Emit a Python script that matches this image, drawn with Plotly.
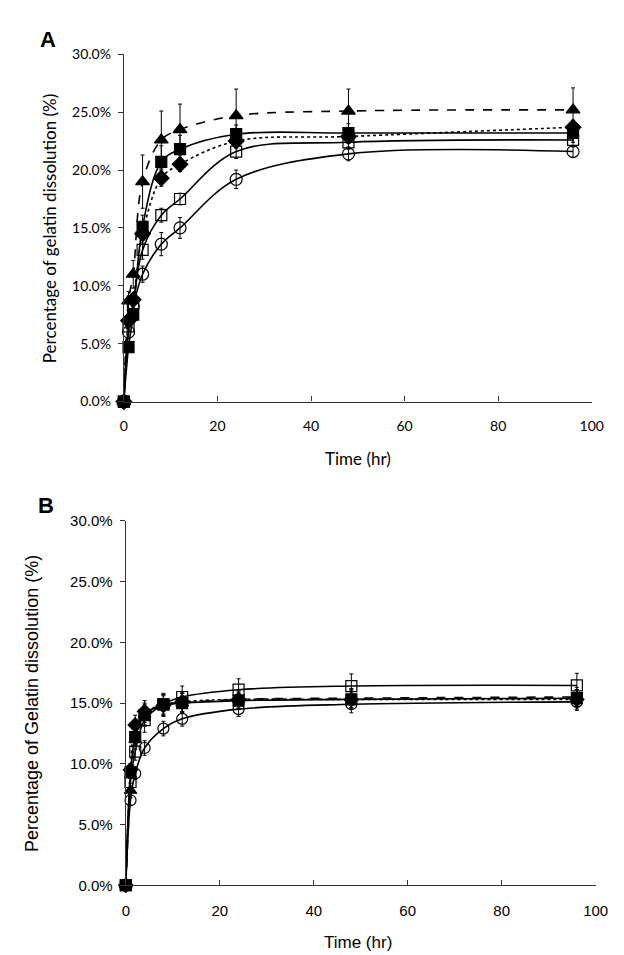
import plotly.graph_objects as go

# ---------------- data ----------------
time_h = [0, 1, 2, 4, 8, 12, 24, 48, 96]
x_ticks = [0, 20, 40, 60, 80, 100]

# Panel A (percentage of gelatin dissolution, %)
a_triangle = [0, 8.7, 11.0, 19.0, 22.6, 23.5, 24.7, 25.1, 25.2]
a_triangle_err = [0, 0.8, 1.2, 2.3, 2.5, 2.2, 2.3, 1.9, 1.9]
a_fsquare = [0, 4.7, 7.5, 15.1, 20.7, 21.8, 23.1, 23.2, 23.2]
a_fsquare_err = [0, 0.3, 0.5, 1.0, 1.4, 1.2, 0.8, 0.8, 0.8]
a_diamond = [0, 7.0, 8.8, 14.5, 19.3, 20.5, 22.5, 22.9, 23.7]
a_diamond_err = [0, 0.4, 0.5, 0.8, 0.7, 0.6, 0.6, 0.6, 0.6]
a_osquare = [0, 6.5, 8.5, 13.1, 16.1, 17.5, 21.6, 22.4, 22.6]
a_osquare_err = [0, 0.4, 0.5, 0.8, 0.6, 0.5, 0.6, 0.6, 0.6]
a_circle = [0, 6.0, 8.2, 11.0, 13.6, 15.0, 19.2, 21.4, 21.6]
a_circle_err = [0, 0.5, 0.6, 0.7, 1.0, 0.9, 0.8, 0.6, 0.5]

# Panel B
b_osquare = [0, 8.5, 11.0, 13.6, 14.9, 15.5, 16.1, 16.4, 16.45]
b_osquare_err = [0, 0.5, 0.7, 1.0, 0.9, 0.9, 0.9, 1.0, 1.0]
b_fsquare = [0, 9.3, 12.2, 14.0, 14.9, 15.0, 15.2, 15.3, 15.4]
b_fsquare_err = [0, 0.5, 0.7, 0.9, 0.8, 0.8, 0.7, 0.7, 0.7]
b_diamond = [0, 9.5, 13.2, 14.3, 14.8, 15.1, 15.3, 15.3, 15.3]
b_diamond_err = [0, 0.5, 0.8, 0.9, 0.9, 0.8, 0.7, 0.8, 0.8]
b_triangle = [0, 7.8, 12.0, 14.1, 14.8, 15.0, 15.3, 15.4, 15.5]
b_triangle_err = [0, 0.6, 0.8, 0.9, 0.8, 0.8, 0.8, 0.8, 0.8]
b_circle = [0, 7.0, 9.2, 11.3, 12.9, 13.7, 14.5, 14.9, 15.1]
b_circle_err = [0, 0.4, 0.5, 0.6, 0.6, 0.6, 0.6, 0.7, 0.7]

# ---------------- figure ----------------
fig = go.Figure()

def add(x, y, err, symbol, size, dash, xa, ya):
    fig.add_trace(go.Scatter(
        x=x, y=y, mode="lines+markers", xaxis=xa, yaxis=ya,
        line=dict(color="black", width=1.6, dash=dash, shape="spline", smoothing=1.0),
        marker=dict(symbol=symbol, size=size, color="black",
                    line=dict(color="black", width=1.2)),
        error_y=dict(type="data", array=err, visible=True, color="black",
                     thickness=1, width=2),
        cliponaxis=False, showlegend=False,
    ))

# Panel A traces
add(time_h, a_circle, a_circle_err, "circle-open", 12, "solid", "x", "y")
add(time_h, a_osquare, a_osquare_err, "square-open", 11, "solid", "x", "y")
add(time_h, a_diamond, a_diamond_err, "diamond", 12, "dot", "x", "y")
add(time_h, a_fsquare, a_fsquare_err, "square", 11, "solid", "x", "y")
add(time_h, a_triangle, a_triangle_err, "triangle-up", 12, "dash", "x", "y")

# Panel B traces
add(time_h, b_circle, b_circle_err, "circle-open", 11, "solid", "x2", "y2")
add(time_h, b_osquare, b_osquare_err, "square-open", 11, "solid", "x2", "y2")
add(time_h, b_diamond, b_diamond_err, "diamond", 11, "dot", "x2", "y2")
add(time_h, b_triangle, b_triangle_err, "triangle-up", 11, "dash", "x2", "y2")
add(time_h, b_fsquare, b_fsquare_err, "square", 11, "solid", "x2", "y2")

W, H = 624, 955
fontA = dict(family="Lato, Liberation Sans, sans-serif", size=14, color="black")
fontB = dict(family="Liberation Sans, Arial, sans-serif", size=15, color="black")

common_x = dict(range=[0, 100], tickvals=x_ticks, showline=True, linecolor="#333",
                linewidth=1.3, ticks="inside", ticklen=5, tickcolor="#333",
                showgrid=False, zeroline=False, ticklabelstandoff=12)
common_y = dict(range=[0, 30], dtick=5, tickformat=".1f", ticksuffix="%",
                showline=True, linecolor="#333", linewidth=1.3, ticks="outside",
                ticklen=5, tickcolor="#333", showgrid=False, zeroline=False,
                ticklabelstandoff=4)

fig.update_layout(
    width=W, height=H, paper_bgcolor="white", plot_bgcolor="white",
    margin=dict(l=0, r=0, t=0, b=0),
    xaxis=dict(domain=[115 / W, 596 / W], anchor="y", tickfont=fontA, **common_x),
    yaxis=dict(domain=[1 - 391.5 / H, 1 - 38 / H], anchor="x", tickfont=fontA, **common_y),
    xaxis2=dict(domain=[117 / W, 600 / W], anchor="y2", tickfont=fontB, **common_x),
    yaxis2=dict(domain=[1 - 884 / H, 1 - 513 / H], anchor="x2", tickfont=fontB, **common_y),
)

ann = [
    dict(text="<b>A</b>", x=37 / W, y=1 - 23 / H, font=dict(family="Liberation Sans", size=22, color="black")),
    dict(text="<b>B</b>", x=35 / W, y=1 - 497 / H, font=dict(family="Liberation Sans", size=22, color="black")),
    dict(text="Time (hr)", x=356 / W, y=1 - 450 / H, font=dict(fontA, size=17)),
    dict(text="Time (hr)", x=356 / W, y=1 - 942 / H, font=dict(fontB, size=17)),
    dict(text="Percentage of gelatin dissolution (%)", x=38 / W, y=1 - 215 / H,
         textangle=-90, font=dict(fontA, size=17)),
    dict(text="Percentage of Gelatin dissolution (%)", x=20 / W, y=1 - 699 / H,
         textangle=-90, font=dict(fontB, size=18)),
]
for a in ann:
    fig.add_annotation(xref="paper", yref="paper", showarrow=False,
                       xanchor="center", yanchor="middle", **a)

fig.write_html("out.html")
